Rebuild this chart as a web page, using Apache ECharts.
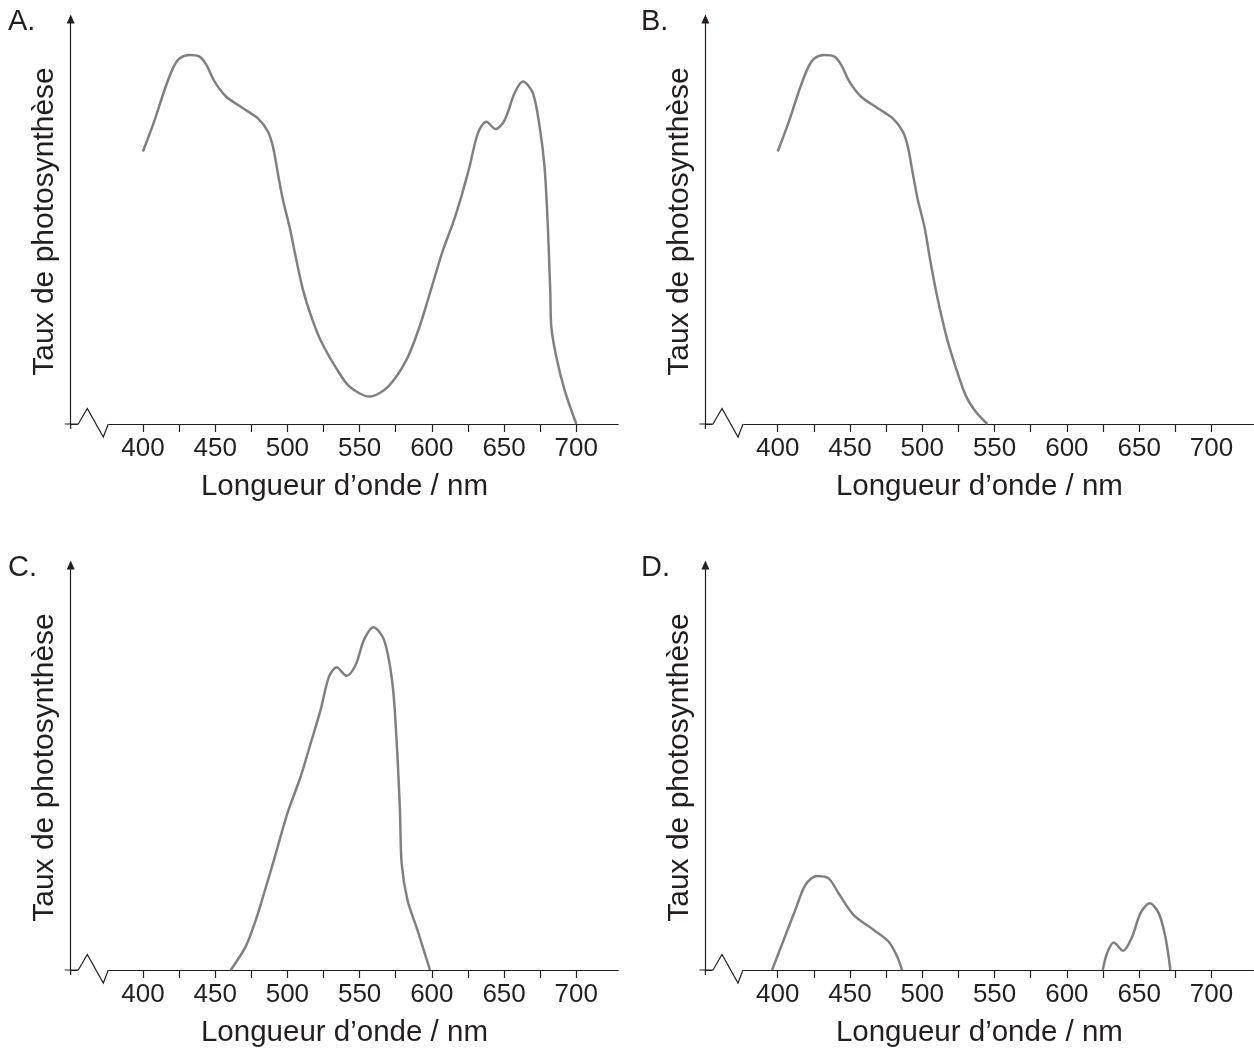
<!DOCTYPE html>
<html>
<head>
<meta charset="utf-8">
<script src="https://cdn.jsdelivr.net/npm/echarts@6/dist/echarts.min.js"></script>
<style>
  html, body { margin: 0; padding: 0; background: #fff; }
  #chart { width: 1254px; height: 1050px; }
</style>
</head>
<body>
<div id="chart"></div>
<script>
// axis ticks / labels (nm)
const tickValues = [400, 425, 450, 475, 500, 525, 550, 575, 600, 625, 650, 675, 700];
const labelValues = [400, 450, 500, 550, 600, 650, 700];
const panelLetters = ['A.', 'B.', 'C.', 'D.'];

// A : full spectrum
const wavelengthA = [400, 408.1, 415, 420.8, 425.5, 432.3, 439.2, 443.9, 449.6, 457.7, 469.2, 479.6, 486.5, 490, 493.4, 496.9, 501.5, 506.2, 510.8, 516.6, 523.5, 533.9, 543.1, 557, 569.6, 582.3, 591.5, 600.7, 607.7, 614.6, 620.4, 626.1, 631.9, 637.7, 644.1, 650.4, 657.3, 663, 669.9, 674.6, 678, 680.3, 682, 682.7, 686.1, 691.9, 700];
const rateA = [66.6, 74.3, 81.7, 87, 89.4, 90.2, 89.8, 87.8, 83.7, 80, 77.2, 74.7, 71.5, 67.8, 61.3, 54.8, 48.2, 40.1, 32.8, 26.2, 20.1, 13.6, 9.1, 6.7, 9.1, 15.6, 23.8, 34.4, 42.5, 49.1, 55.6, 62.9, 71.1, 73.9, 72.1, 74.3, 80.9, 83.7, 80.9, 72.7, 62.9, 48.2, 32, 23.8, 16.5, 8.3, 0];

// B : blue part only
const wavelengthB = [400, 408.1, 415, 420.8, 425.5, 432.3, 439.2, 443.9, 449.6, 457.7, 469.2, 479.6, 486.5, 490, 493.4, 496.9, 501.5, 506, 511, 517, 523, 530, 537, 545];
const rateB = [66.6, 74.3, 81.7, 87, 89.4, 90.2, 89.8, 87.8, 83.7, 80, 77.2, 74.7, 71.5, 67.8, 61.3, 54.8, 48.2, 39, 30, 21, 14, 7, 3, 0];

// C : green band
const wavelengthC = [460.8, 471.1, 478.1, 483.8, 490.7, 500, 509.2, 516.1, 523, 528.8, 534.1, 541, 547.3, 553, 559.5, 566.9, 572.7, 575.7, 577.9, 579.1, 583.1, 590, 598.7];
const rateC = [0, 5.7, 12.2, 18.7, 26.9, 38.3, 47.3, 55.4, 63.6, 71.7, 74, 71.9, 74.6, 80.7, 83.8, 80.7, 70.1, 55.4, 39.1, 26.1, 17.1, 9.8, 0];

// D : two small humps
const wavelengthD1 = [396.1, 404.1, 412.2, 419.2, 427.2, 435.2, 442.2, 452.6, 466.4, 476.8, 482.6, 486];
const rateD1 = [0, 7.3, 14.7, 20.8, 23, 22.4, 18.7, 13.4, 9.8, 6.9, 3.3, 0];
const wavelengthD2 = [624.8, 627.8, 632.4, 638.9, 645.1, 650.9, 657.3, 663.5, 668.1, 671.6];
const rateD2 = [0, 4.1, 6.7, 4.7, 8.1, 13.9, 16.3, 13.9, 8.1, 0];

const ink = '#231f20';
const curveColor = '#808080';
const font = '"Liberation Sans", Arial, sans-serif';

const zip = (xs, ys) => xs.map((x, i) => [x, ys[i]]);

const grids = [
  { left: 70.7, top: 19, width: 547.5, height: 405 },
  { left: 705.4, top: 19, width: 548, height: 405 },
  { left: 70.7, top: 565, width: 547.5, height: 405 },
  { left: 705.4, top: 565, width: 548, height: 405 }
].map(g => Object.assign({ outerBoundsMode: 'none', containLabel: false }, g));

const xAxes = grids.map((g, i) => ({
  gridIndex: i,
  type: 'value',
  min: 350,
  max: 729,
  name: 'Longueur d’onde / nm',
  nameLocation: 'middle',
  nameGap: 48,
  nameTextStyle: { fontSize: 29.5, color: ink, fontFamily: font },
  axisLine: { onZero: false, lineStyle: { color: ink, width: 1.2 } },
  axisTick: { customValues: tickValues, length: 8, lineStyle: { color: ink, width: 1.2 } },
  axisLabel: { customValues: labelValues, fontSize: 26, color: ink, fontFamily: font, margin: 12 },
  splitLine: { show: false }
}));

const yAxes = grids.map((g, i) => ({
  gridIndex: i,
  type: 'value',
  min: 0,
  max: 99,
  name: 'Taux de photosynthèse',
  nameLocation: 'middle',
  nameGap: 11,
  nameTextStyle: { fontSize: 30, color: ink, fontFamily: font },
  axisLine: {
    show: true, onZero: false,
    symbol: ['none', 'triangle'], symbolSize: [8, 9],
    lineStyle: { color: ink, width: 1.2 }
  },
  axisTick: { show: false },
  axisLabel: { show: false },
  splitLine: { show: false }
}));

function curve(idx, xs, ys) {
  return {
    type: 'line',
    xAxisIndex: idx,
    yAxisIndex: idx,
    data: zip(xs, ys),
    smooth: 0.3,
    showSymbol: false,
    lineStyle: { color: curveColor, width: 2.5 },
    silent: true
  };
}

const chart = echarts.init(document.getElementById('chart'), null, { renderer: 'canvas' });
chart.setOption({
  animation: false,
  backgroundColor: '#fff',
  grid: grids,
  xAxis: xAxes,
  yAxis: yAxes,
  series: [
    curve(0, wavelengthA, rateA),
    curve(1, wavelengthB, rateB),
    curve(2, wavelengthC, rateC),
    curve(3, wavelengthD1, rateD1),
    curve(3, wavelengthD2, rateD2)
  ]
});

// axis break zigzag + letters
const letterPos = [[8, 7], [641, 7], [8, 553], [641, 553]];
const graphics = [];
grids.forEach((g, i) => {
  const o = chart.convertToPixel({ xAxisIndex: i, yAxisIndex: i }, [350, 0]);
  const ox = o[0], oy = o[1];
  graphics.push({
    type: 'rect', z: 100,
    shape: { x: ox + 7, y: oy - 2, width: 31, height: 4 },
    style: { fill: '#fff' }
  });
  graphics.push({
    type: 'polyline', z: 101,
    shape: { points: [[ox - 6, oy], [ox + 7.6, oy], [ox + 16.6, oy - 15.5], [ox + 32.6, oy + 13], [ox + 37.6, oy]] },
    style: { stroke: ink, lineWidth: 1.2, fill: null }
  });
  graphics.push({
    type: 'line', z: 101,
    shape: { x1: ox, y1: oy, x2: ox, y2: oy + 5 },
    style: { stroke: ink, lineWidth: 1.2 }
  });
  graphics.push({
    type: 'text', z: 101,
    x: letterPos[i][0], y: letterPos[i][1],
    style: { text: panelLetters[i], font: '29px ' + font, fill: ink, textVerticalAlign: 'top' }
  });
});
chart.setOption({ graphic: graphics });
</script>
</body>
</html>
